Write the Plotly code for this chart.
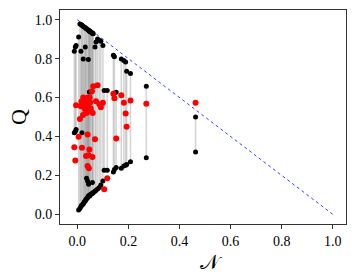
import plotly.graph_objects as go

# Each system: negativity N, upper bound Q, lower bound Q, estimate (red)
N = [0.463, 0.270, 0.208, 0.193, 0.189, 0.182, 0.172, 0.152, 0.141, 0.145,
     0.117, 0.105, 0.100, 0.092, 0.079, 0.073, 0.069, 0.086,
     0.062, 0.059, 0.057, 0.054, 0.050, 0.047, 0.044, 0.042, 0.040, 0.040,
     0.036, 0.036, 0.034, 0.031, 0.030, 0.027, 0.023, 0.022, 0.018, 0.016,
     0.014, 0.043, 0.010, 0.005, -0.005, -0.008, -0.012, 0.052, 0.048, 0.060, 0.045]
Q_upper = [0.500, 0.658, 0.723, 0.735, 0.783, 0.791, 0.798, 0.627, 0.817, 0.810,
           0.636, 0.636, 0.868, 0.890, 0.901, 0.886, 0.860, 0.895,
           0.928, 0.931, 0.933, 0.936, 0.940, 0.942, 0.946, 0.544, 0.950, 0.555,
           0.954, 0.530, 0.955, 0.860, 0.960, 0.963, 0.798, 0.967, 0.971, 0.974,
           0.838, 0.795, 0.978, 0.911, 0.867, 0.860, 0.838, 0.938, 0.941, 0.930, 0.945]
Q_lower = [0.320, 0.290, 0.270, 0.256, 0.252, 0.248, 0.236, 0.240, 0.217, 0.230,
           0.226, 0.226, 0.171, 0.150, 0.130, 0.123, 0.118, 0.137,
           0.111, 0.163, 0.105, 0.629, 0.098, 0.629, 0.154, 0.090, 0.171, 0.085,
           0.185, 0.080, 0.077, 0.070, 0.068, 0.063, 0.055, 0.051, 0.419, 0.045,
           0.040, 0.092, 0.030, 0.022, 0.436, 0.425, 0.419, 0.103, 0.094, 0.111, 0.096]
Q_est = [0.573, 0.568, 0.585, 0.450, 0.518, 0.573, 0.612, 0.390, 0.620, 0.597,
         0.185, 0.128, 0.573, 0.550, 0.663, 0.581, 0.385, 0.565,
         0.658, 0.294, 0.632, 0.530, 0.575, 0.333, 0.304, 0.600, 0.248, 0.410,
         0.520, 0.560, 0.300, 0.590, 0.540, 0.570, 0.600, 0.510, 0.342, 0.580,
         0.555, 0.580, 0.490, 0.398, 0.560, 0.277, 0.345, 0.545, 0.600, 0.520, 0.236]
bound_x = [0.0, 1.0]
bound_y = [1.0, 0.0]
tick_vals = [0.0, 0.2, 0.4, 0.6, 0.8, 1.0]

fig = go.Figure()

# gray vertical segments
lx, ly = [], []
for n, u, l in zip(N, Q_upper, Q_lower):
    lx += [n, n, None]
    ly += [l, u, None]
fig.add_trace(go.Scatter(x=lx, y=ly, mode="lines",
                         line=dict(color="rgba(150,150,150,0.4)", width=1.5),
                         hoverinfo="skip"))
# diagonal bound
fig.add_trace(go.Scatter(x=bound_x, y=bound_y, mode="lines",
                         line=dict(color="rgb(60,60,255)", width=1, dash="dot")))
# black bounds
fig.add_trace(go.Scatter(x=N + N, y=Q_upper + Q_lower, mode="markers",
                         marker=dict(color="black", size=5)))
# red estimates
fig.add_trace(go.Scatter(x=N, y=Q_est, mode="markers",
                         marker=dict(color="red", size=6)))

axis_common = dict(showline=True, linecolor="#333", linewidth=1, mirror=True,
                   ticks="outside", ticklen=4, tickcolor="#333", automargin=False,
                   showgrid=False, zeroline=False, tickformat=".1f",
                   tickvals=tick_vals,
                   tickfont=dict(family="Liberation Serif", size=14, color="black"))
fig.update_layout(
    width=349, height=268, showlegend=False,
    plot_bgcolor="white", paper_bgcolor="white",
    margin=dict(l=52, r=11, t=2, b=52),
    xaxis=dict(range=[-0.068, 1.052], **axis_common),
    yaxis=dict(range=[-0.05, 1.05], **axis_common),
    annotations=[
        dict(text="𝒩", xref="paper", yref="paper", x=0.527, y=-0.178,
             xanchor="center", yanchor="middle", showarrow=False,
             font=dict(family="DejaVu Serif", size=20, color="black")),
        dict(text="Q", xref="paper", yref="paper", x=-0.147, y=0.5,
             xanchor="center", yanchor="middle", showarrow=False, textangle=-90,
             font=dict(family="Liberation Serif", size=22, color="black")),
    ],
)
fig.write_html("out.html")
